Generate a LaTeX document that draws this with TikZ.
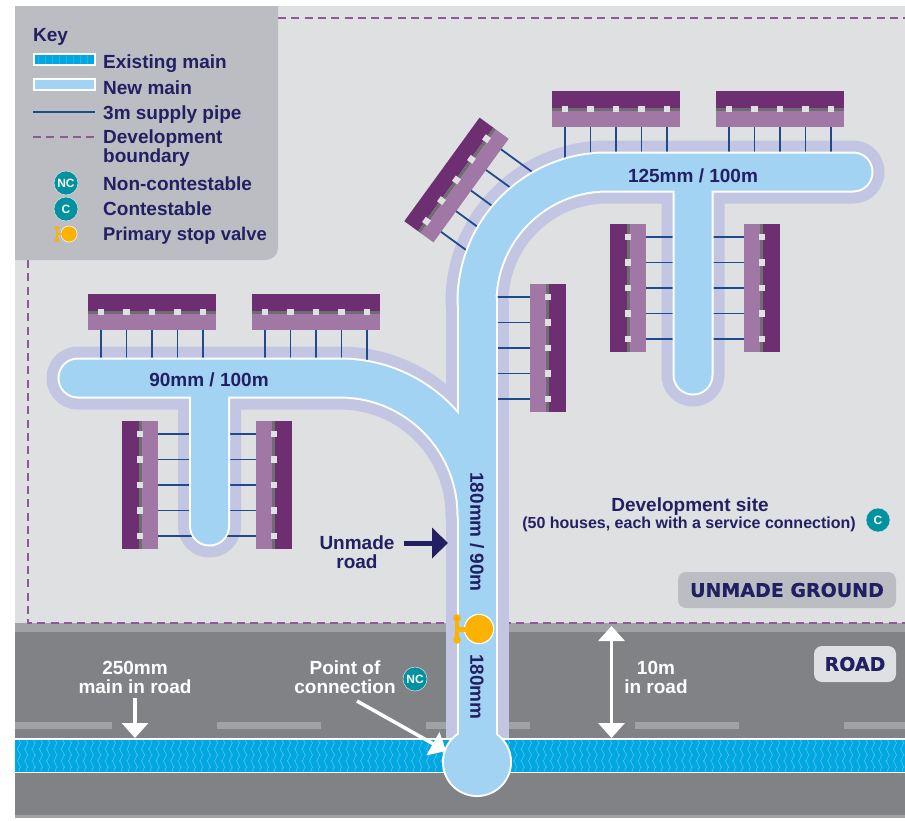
\documentclass[tikz,border=0pt]{standalone}
\usepackage{fontspec}
\setmainfont{Liberation Sans}
\usetikzlibrary{arrows.meta, positioning}

\definecolor{sitegrey}{HTML}{DFE0E2}
\definecolor{keygrey}{HTML}{BCBDC2}
\definecolor{roadgrey}{HTML}{808285}
\definecolor{vergegrey}{HTML}{A0A2A6}
\definecolor{inktext}{HTML}{231F63}
\definecolor{haloblue}{HTML}{C3C6E2}
\definecolor{newblue}{HTML}{A2D3F3}
\definecolor{oldblue}{HTML}{00A7E1}
\definecolor{waveblue}{HTML}{4FC3EE}
\definecolor{supplyblue}{HTML}{1F4B8C}
\definecolor{boundpurple}{HTML}{8C5A96}
\definecolor{darkplot}{HTML}{6D2F72}
\definecolor{lightplot}{HTML}{A178A5}
\definecolor{plotgrey}{HTML}{6E6E70}
\definecolor{badgeteal}{HTML}{00929F}
\definecolor{valveorange}{HTML}{FDB100}

\newcommand{\labelfont}{\fontsize{19}{19}\selectfont\bfseries}
\newcommand{\tagfont}{\fontsize{19}{19}\fontspec[FakeBold=0.5]{DejaVu Sans Bold}}

\begin{document}
\begin{tikzpicture}[
    x=1pt, y=-1pt,
    lab/.style={font=\labelfont, text=inktext, align=center, inner sep=0pt},
    whitelab/.style={lab, text=white},
    keylab/.style={lab, anchor=base west, align=left},
    tagbox/.style={fill=#1, rounded corners=8pt, inner sep=0pt, text=inktext, font=\tagfont},
    badge/.style={circle, fill=badgeteal, draw=sitegrey, line width=0.5pt, minimum size=24pt, inner sep=0pt, text=white, font=\fontsize{#1}{#1}\selectfont\bfseries},
    boundary/.style={draw=boundpurple, line width=2pt, dash pattern=on 8pt off 5.3pt},
    supply/.style={draw=supplyblue, line width=1.8pt},
    arrow/.style={-{Triangle[length=15pt, width=26pt]}, white, line width=3.5pt},
    both arrow/.style={{Triangle[length=15pt, width=26pt]}-{Triangle[length=15pt, width=26pt]}, white, line width=3.5pt},
    branch route/.style={insert path={
        (78,378) -- (340,378) arc[start angle=-90, end angle=0, radius=137]
        (209.5,378) -- (209.5,526)
        (477,302) arc[start angle=180, end angle=270, radius=130] -- (853,172)
        (693,172) -- (693,375)}},
    pipe halo/.style={draw=haloblue, line width=63pt, line cap=round, line join=round},
    pipe edge/.style={draw=white, line width=41pt, line cap=round, line join=round},
    pipe fill/.style={draw=newblue, line width=37pt, line cap=round, line join=round},
    houses/.pic={
        \fill[darkplot] (-64,-18) rectangle (64,-1);
        \fill[lightplot] (-64,2) rectangle (64,18);
        \fill[plotgrey] (-64,-1) rectangle (64,2);
        \foreach \s in {-51,-25.5,0,25.5,51} {
            \fill[sitegrey] (\s-3.2,-3.2) rectangle (\s+3.2,3.2);
            \draw[supply] (\s,18) -- (\s,60);
        }
    },
    stopvalve/.pic={
        \fill[white] (0,0) circle (15.2);
        \fill[valveorange] (0,0) circle (14);
        \fill[valveorange] (-22,-2.5) rectangle (0,2.5);
        \fill[valveorange] (-24,-11) rectangle (-20,11);
        \fill[valveorange] (-22,-11) circle (3.8);
        \fill[valveorange] (-22,11) circle (3.8);
    }
    ]

    \useasboundingbox (0,0) rectangle (905,820);
    \fill[white] (0,0) rectangle (905,820);

    \fill[sitegrey] (15,6) rectangle (905,624);
    \fill[vergegrey] (15,623) rectangle (905,818);
    \fill[roadgrey] (15,632) rectangle (905,815);

    \foreach \a/\b in {15/112,217/321,426/530,635/739,844/905}
        \fill[vergegrey] (\a,722) rectangle (\b,729);

    \draw[boundary] (278,18) -- (905,18);
    \draw[boundary] (27.5,260) -- (27.5,622.5) -- (905,622.5);

    \draw[pipe halo, branch route];
    \draw[pipe halo, line cap=butt] (477,302) -- (477,739);

    \fill[white] (15,738) rectangle (905,773);
    \fill[oldblue] (15,740) rectangle (905,771.5);
    \foreach \x in {19,26.3,...,905}
        \draw[waveblue, line width=0.6pt] (\x,740) sin (\x+1.8,743) cos (\x,746) sin (\x-1.8,749) cos (\x,752) sin (\x+1.8,755) cos (\x,758) sin (\x-1.8,761) cos (\x,764) sin (\x+1.8,767) cos (\x,770) -- (\x,771.5);

    \pic at (152,312) {houses};
    \pic at (316,312) {houses};
    \pic[rotate=90] at (140,485) {houses};
    \pic[rotate=-90] at (274,485) {houses};
    \pic[rotate=-90] at (548,348) {houses};
    \pic[rotate=54] at (456.5,180) {houses};
    \pic at (616,109) {houses};
    \pic at (780,109) {houses};
    \pic[rotate=90] at (628,288) {houses};
    \pic[rotate=-90] at (762,288) {houses};

    \fill[white] (477,762) circle (35);
    \draw[pipe edge, branch route];
    \draw[pipe edge] (477,302) -- (477,745);
    \fill[newblue] (477,762) circle (33);
    \draw[pipe fill, branch route];
    \draw[pipe fill] (477,302) -- (477,745);

    \pic at (479,629) {stopvalve};

    \node[lab] (lbl_upper) at (693,176) {125mm / 100m};
    \node[lab] (lbl_lower) at (209,380) {90mm / 100m};
    \node[lab, rotate=-90] (lbl_riser) at (477,532) {180mm / 90m};
    \node[lab, rotate=-90] (lbl_stub) at (477,687) {180mm};

    \node[lab] (lbl_site) at (690,507) {Development site};
    \node[lab, font=\fontsize{16}{16}\selectfont\bfseries] (lbl_houses) at (689,524) {(50 houses, each with a service connection)};
    \node[badge=12] (site_badge) at (878,520) {C};

    \node[tagbox=keygrey, minimum width=218pt, minimum height=36pt] (tag_ground) at (787,590) {UNMADE GROUND};
    \node[tagbox=sitegrey, minimum width=82pt, minimum height=36pt] (tag_road) at (855,664) {ROAD};

    \node[lab] (lbl_unmade) at (357,552) {Unmade\\road};
    \coordinate (unmade_tail) at (404,543);
    \coordinate (unmade_tip) at (448,543);
    \draw[-{Triangle[length=16pt, width=30pt]}, inktext, line width=5pt] (unmade_tail) -- (unmade_tip);

    \node[whitelab] (lbl_main) at (135,677) {250mm\\main in road};
    \coordinate (main_tip) at (135,738);
    \draw[arrow] (lbl_main.south) ++(0,5) -- (main_tip);

    \node[whitelab] (lbl_poc) at (345,677) {Point of\\connection};
    \node[badge=12] (poc_badge) at (415,679) {NC};
    \coordinate (poc_tail) at (357,701);
    \coordinate (poc_tip) at (446,751);
    \draw[arrow] (poc_tail) -- (poc_tip);

    \node[whitelab] (lbl_road) at (656,677) {10m\\in road};
    \coordinate (road_top) at (611.5,626);
    \coordinate (road_bot) at (611.5,738);
    \draw[both arrow] (road_top) -- (road_bot);

    \fill[keygrey, rounded corners=0pt] (15,6) -- (278,6) [rounded corners=12pt] -- (278,260) [sharp corners] -- (15,260) -- cycle;

    \node[keylab] (key_title) at (33,41.5) {Key};
    \node[keylab] (key_old) at (103,68) {Existing main};
    \node[keylab] (key_new) at (103,94) {New main};
    \node[keylab] (key_supply) at (103,119) {3m supply pipe};
    \node[lab, anchor=west, align=left] (key_bound) at (103,148) {Development\\boundary};
    \node[keylab] (key_nc) at (103,190) {Non-contestable};
    \node[keylab] (key_c) at (103,215) {Contestable};
    \node[keylab, font=\fontsize{18.4}{19}\selectfont\bfseries] (key_valve) at (103,240.5) {Primary stop valve};

    \fill[white] (33,53) rectangle (96,66);
    \fill[oldblue] (35,55) rectangle (94,64);
    \foreach \x in {38,45,...,92}
        \draw[waveblue, line width=0.4pt] (\x,55) sin (\x+1.2,59.5) cos (\x,64);
    \fill[white] (33,78) rectangle (96,91);
    \fill[newblue] (35,80) rectangle (94,89);
    \draw[supply] (33,112) -- (95,112);
    \draw[boundary] (33,137) -- (95,137);
    \node[badge=12] (key_nc_badge) at (66,183) {NC};
    \node[badge=12] (key_c_badge) at (66,209) {C};
    \pic[scale=0.55] at (69,234) {stopvalve};

\end{tikzpicture}
\end{document}
